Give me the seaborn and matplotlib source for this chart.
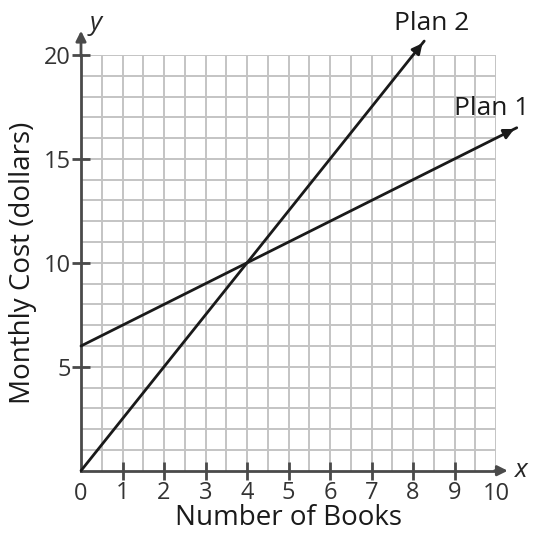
import matplotlib
matplotlib.use("Agg")
from matplotlib import pyplot as plt
import numpy as np
import pandas as pd
import seaborn as sns

# line endpoints
plan1_books = [0, 10.5]
plan1_cost = [6, 16.5]
plan2_books = [0, 8.27]
plan2_cost = [0, 20.67]
x_ticks = [0, 1, 2, 3, 4, 5, 6, 7, 8, 9, 10]
y_ticks = [5, 10, 15, 20]

df = pd.concat([
    pd.DataFrame({'books': plan1_books, 'cost': plan1_cost, 'plan': 'Plan 1'}),
    pd.DataFrame({'books': plan2_books, 'cost': plan2_cost, 'plan': 'Plan 2'}),
])

sns.set_style("white")
plt.rcParams['font.family'] = ['Open Sans', 'DejaVu Sans']

f = plt.figure(figsize=(5.34, 5.35), dpi=100)
ax = f.add_axes([81 / 534, 1 - 470.7 / 535, 415 / 534, 415.7 / 535])

# grid
for gx in np.arange(0.5, 10.01, 0.5):
    ax.axvline(gx, color='#c4c4c4', lw=1.4, zorder=0)
for gy in np.arange(1, 20.01, 1):
    ax.axhline(gy, color='#c4c4c4', lw=1.4, zorder=0)

sns.lineplot(data=df, x='books', y='cost', units='plan', estimator=None,
             color='#1a1a1a', lw=2, ax=ax, legend=False, clip_on=False, zorder=3)

# arrow heads and labels
for bx, cy, name, pos in [(plan1_books, plan1_cost, 'Plan 1', (9.9, 17.45)),
                          (plan2_books, plan2_cost, 'Plan 2', (8.45, 21.5))]:
    ax.annotate('', xy=(bx[-1], cy[-1]),
                xytext=(bx[-1] - 0.03 * (bx[-1] - bx[0]), cy[-1] - 0.03 * (cy[-1] - cy[0])),
                arrowprops=dict(arrowstyle='-|>', color='#1a1a1a', lw=2, mutation_scale=15),
                annotation_clip=False, zorder=4)
    ax.text(pos[0], pos[1], name, fontsize=19, color='#1a1a1a', ha='center', va='center')

ax.set_xlim(0, 10)
ax.set_ylim(0, 20)
for s in ['top', 'right']:
    ax.spines[s].set_visible(False)
for s in ['left', 'bottom']:
    ax.spines[s].set_color('#4a4a4a')
    ax.spines[s].set_linewidth(2)

# axis arrows
ax.annotate('', xy=(10.35, 0), xytext=(9.9, 0),
            arrowprops=dict(arrowstyle='-|>', color='#4a4a4a', lw=2, mutation_scale=15),
            annotation_clip=False)
ax.annotate('', xy=(0, 21.3), xytext=(0, 19.8),
            arrowprops=dict(arrowstyle='-|>', color='#4a4a4a', lw=2, mutation_scale=15),
            annotation_clip=False)
ax.text(10.45, 0, 'x', fontsize=19, style='italic', ha='left', va='center')
ax.text(0.2, 21.5, 'y', fontsize=19, style='italic', ha='left', va='center')

ax.set_xticks(x_ticks[1:-1])
ax.set_xticklabels([str(t) for t in x_ticks[1:-1]])
ax.set_yticks(y_ticks)
ax.set_yticklabels([str(t) for t in y_ticks])
ax.tick_params(axis='both', direction='inout', length=13, width=2, color='#4a4a4a',
               labelsize=17, labelcolor='#333333', pad=1, left=True, bottom=True)
ax.text(0, -0.55, '0', fontsize=17, color='#333333', ha='center', va='top')
ax.text(10, -0.55, '10', fontsize=17, color='#333333', ha='center', va='top')

ax.set_xlabel('Number of Books', fontsize=20, color='#1a1a1a')
ax.set_ylabel('Monthly Cost (dollars)', fontsize=20, color='#1a1a1a')
ax.xaxis.label.set_va('center')
ax.yaxis.label.set_va('center')
ax.xaxis.set_label_coords(0.5, -0.114)
ax.yaxis.set_label_coords(-0.14, 0.5)

f.savefig('out.png', dpi=100)
